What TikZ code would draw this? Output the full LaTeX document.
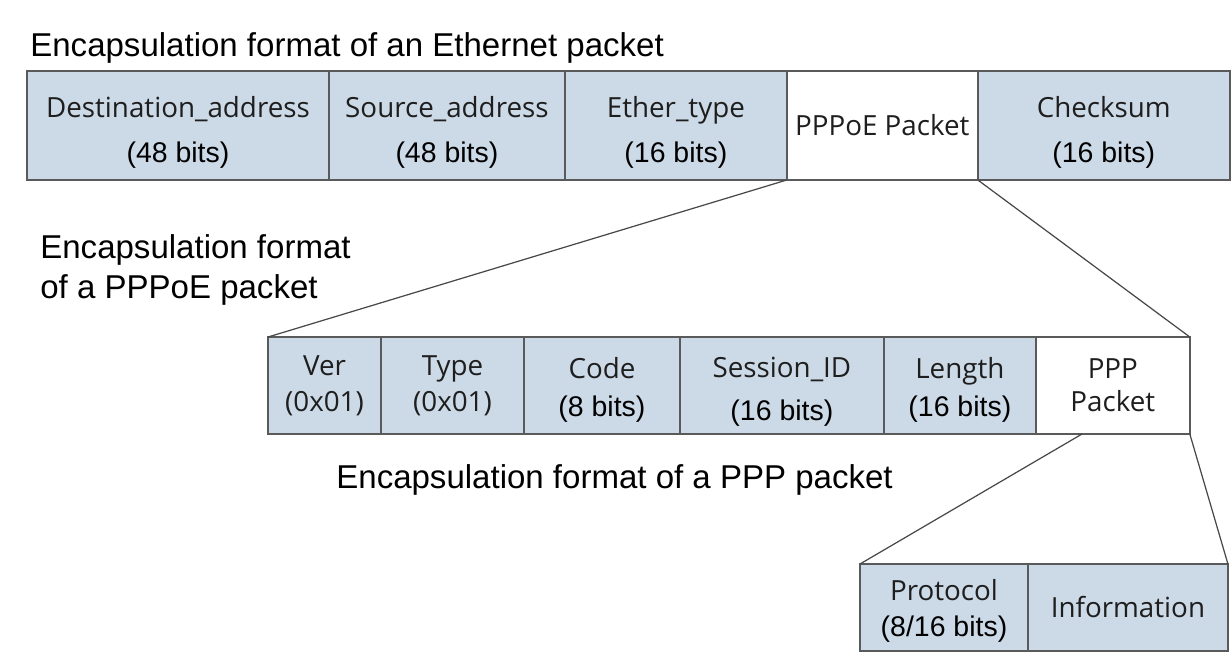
\documentclass[tikz,border=0pt]{standalone}
\usepackage{fontspec}
\setmainfont{Liberation Sans}
\newfontfamily\fieldfont{Open Sans}
\usetikzlibrary{positioning,calc}
\definecolor{fieldblue}{RGB}{204,217,230}
\definecolor{edgegray}{RGB}{90,90,90}
\definecolor{namegray}{RGB}{30,30,30}

\begin{document}
\begin{tikzpicture}[x=0.02cm,y=-0.02cm,
  field/.style={draw=edgegray,line width=1pt,fill=fieldblue,inner sep=0pt,outer sep=0pt,
    align=center,text=namegray,font=\fieldfont\fontsize{15.8}{19}\selectfont},
  hole/.style={field,fill=white},
  low/.style={text height=#1},
  caption/.style={anchor=west,inner sep=0pt,align=left,font=\fontsize{18.8}{23.2}\selectfont},
  zoomline/.style={draw=edgegray!80!black,line width=0.7pt}]
\def\bits#1{{\rmfamily\fontsize{16.2}{19}\selectfont\color{black}(#1 bits)}}
\useasboundingbox (0,0) rectangle (1232,662);

% Ethernet packet
\node[caption] (ethcap) at (30,48) {Encapsulation format of an Ethernet packet};
\node[field,low=45pt,anchor=west,minimum width=6.04cm,minimum height=2.18cm] (dst) at (27,125.5)
  {Destination\_address\\[6.5pt]\bits{48}};
\node[field,low=45pt,right=0pt of dst,minimum width=4.72cm,minimum height=2.18cm] (src)
  {Source\_address\\[6.5pt]\bits{48}};
\node[field,low=45pt,right=0pt of src,minimum width=4.44cm,minimum height=2.18cm] (eth)
  {Ether\_type\\[6.5pt]\bits{16}};
\node[hole,right=0pt of eth,minimum width=3.82cm,minimum height=2.18cm] (pppoe)
  {PPPoE Packet};
\node[field,low=45pt,right=0pt of pppoe,minimum width=5.04cm,minimum height=2.18cm] (chk)
  {Checksum\\[6.5pt]\bits{16}};

% PPPoE packet
\node[caption] (pppoecap) at (40,270) {Encapsulation format\\of a PPPoE packet};
\node[field,anchor=west,minimum width=2.26cm,minimum height=1.94cm] (ver) at (268,385.5)
  {Ver\\[1.5pt](0x01)};
\node[field,right=0pt of ver,minimum width=2.86cm,minimum height=1.94cm] (type)
  {Type\\[1.5pt](0x01)};
\node[field,low=39pt,right=0pt of type,minimum width=3.12cm,minimum height=1.94cm] (code)
  {Code\\[3pt]\bits{8}};
\node[field,low=43.5pt,right=0pt of code,minimum width=4.08cm,minimum height=1.94cm] (sid)
  {Session\_ID\\[5.5pt]\bits{16}};
\node[field,low=39pt,right=0pt of sid,minimum width=3.04cm,minimum height=1.94cm] (len)
  {Length\\[3pt]\bits{16}};
\node[hole,right=0pt of len,minimum width=3.08cm,minimum height=1.94cm] (ppp)
  {PPP\\Packet};

% PPP packet
\node[caption] (pppcap) at (336,480) {Encapsulation format of a PPP packet};
\node[field,low=36pt,anchor=west,minimum width=3.36cm,minimum height=1.74cm] (proto) at (860,607.5)
  {Protocol\\[1.5pt]\bits{8/16}};
\node[field,right=0pt of proto,minimum width=4cm,minimum height=1.74cm] (info)
  {Information};

\draw[zoomline] (pppoe.south west) -- (ver.north west);
\draw[zoomline] (pppoe.south east) -- (ppp.north east);
\draw[zoomline] ($(ppp.south west)!.3!(ppp.south east)$) -- (proto.north west);
\draw[zoomline] (ppp.south east) -- (info.north east);
\end{tikzpicture}
\end{document}
